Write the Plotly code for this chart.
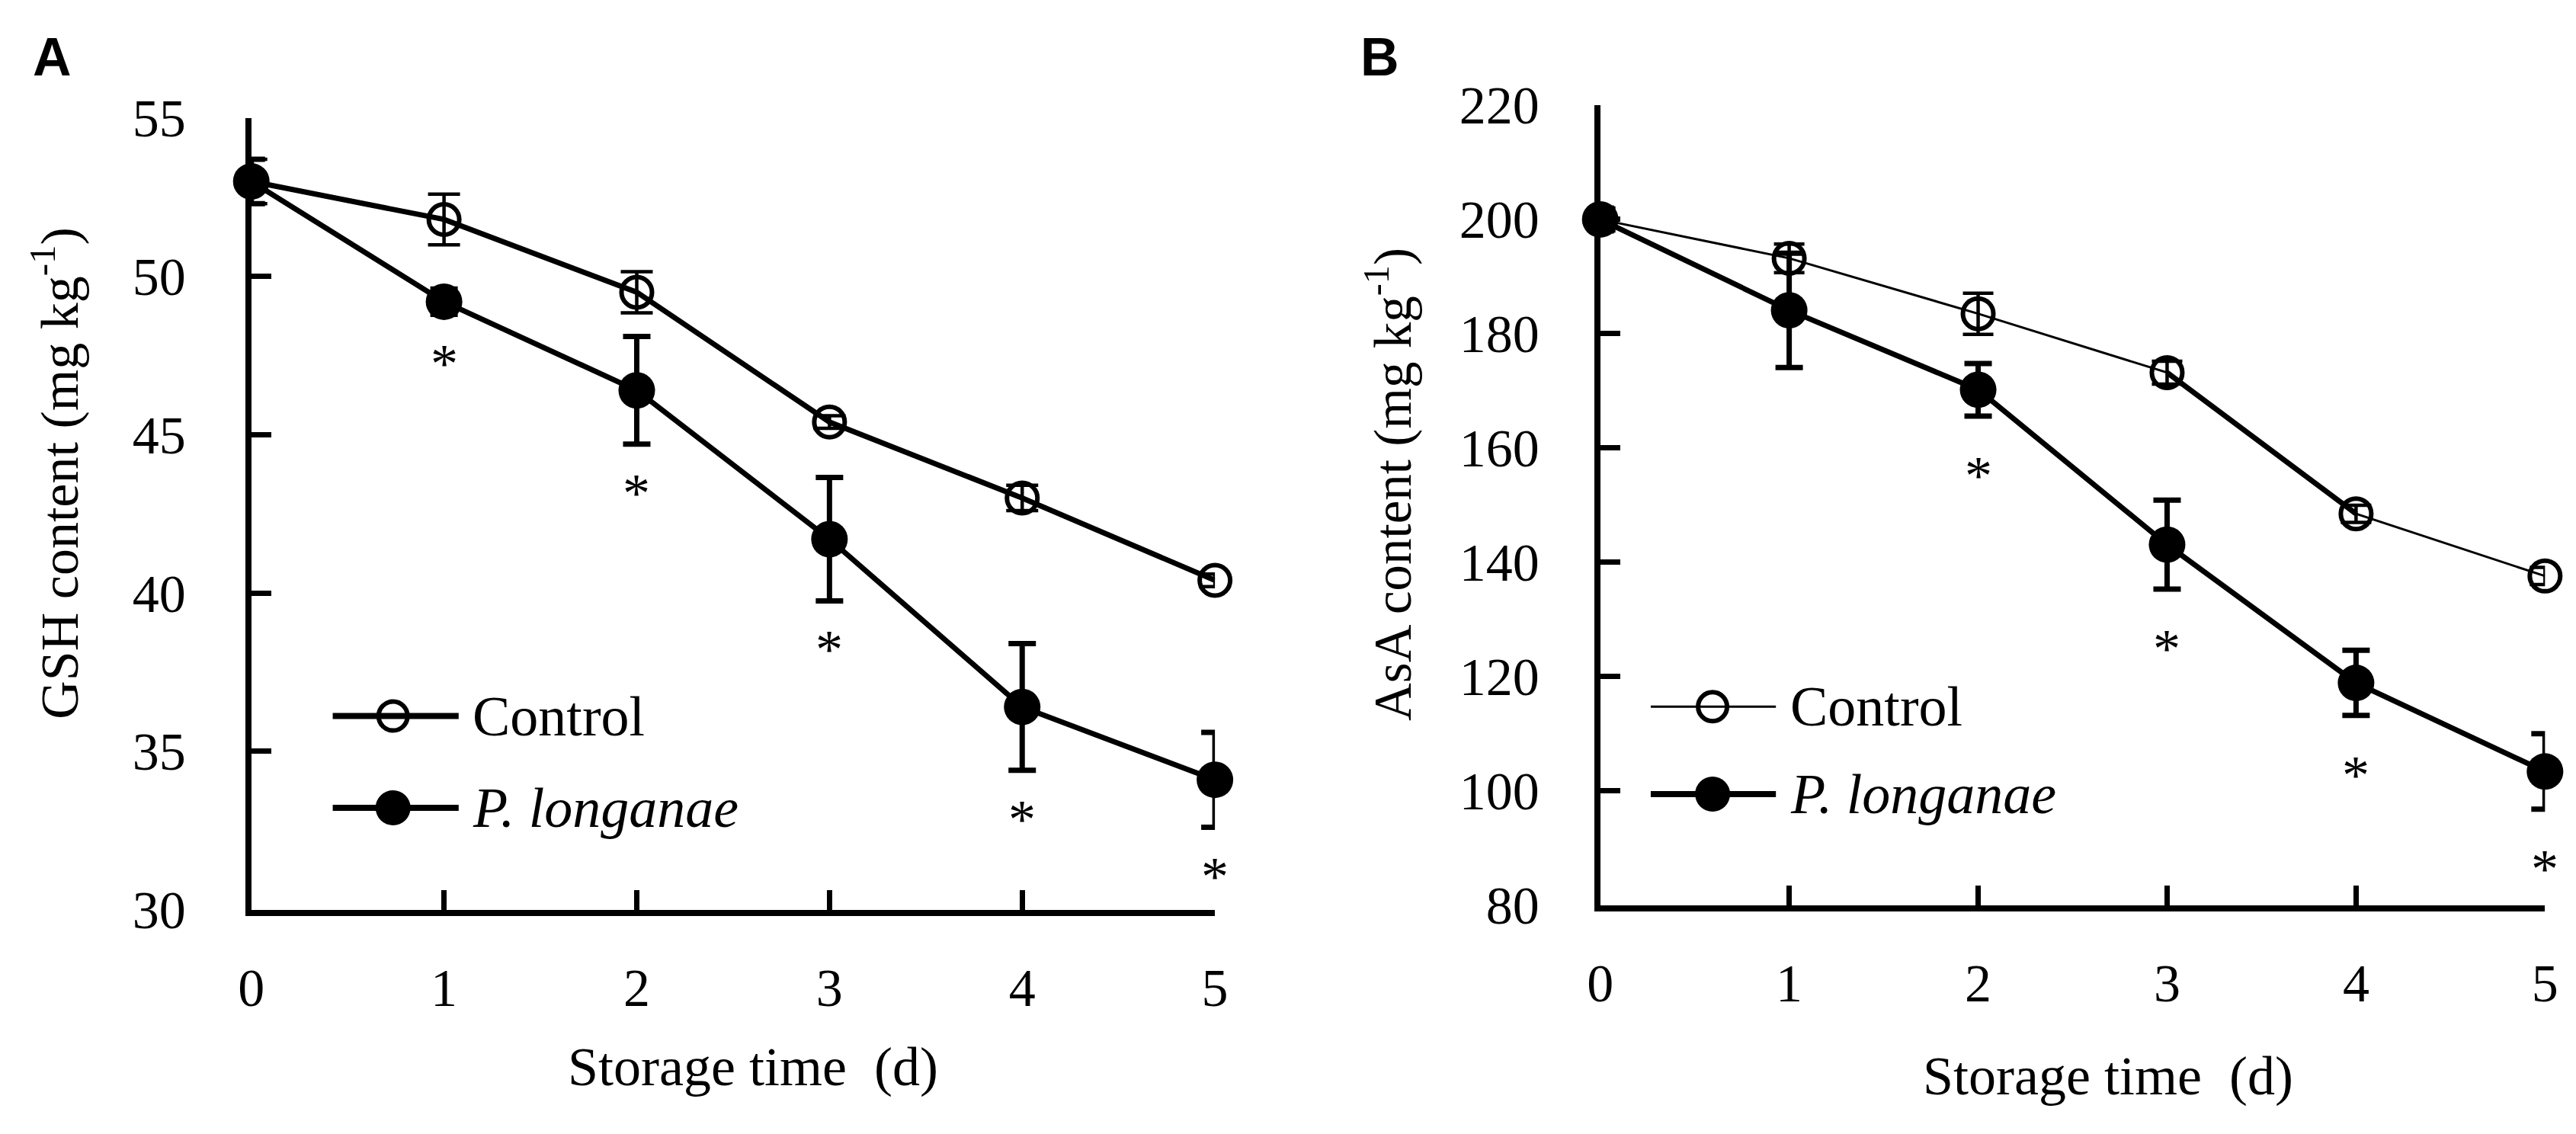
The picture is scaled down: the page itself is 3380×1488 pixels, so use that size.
import plotly.graph_objects as go

# ---------------- data ----------------
days = [0, 1, 2, 3, 4, 5]
day_ticks = [0, 1, 2, 3, 4, 5]

gsh_control = [53.0, 51.8, 49.5, 45.4, 43.0, 40.4]
gsh_control_err = [0.7, 0.8, 0.65, 0.2, 0.4, 0.2]
gsh_plong = [53.0, 49.2, 46.4, 41.7, 36.4, 34.1]
gsh_plong_err = [0.7, 0.4, 1.7, 1.95, 2.0, 1.5]
gsh_sig = [False, True, True, True, True, True]
gsh_ticks = [30, 35, 40, 45, 50, 55]

asa_control = [200.0, 193.2, 183.5, 173.2, 148.5, 137.6]
asa_control_err = [2.0, 2.5, 3.6, 2.0, 1.5, 1.5]
asa_plong = [200.0, 184.1, 170.2, 143.1, 118.9, 103.4]
asa_plong_err = [2.0, 10.0, 4.6, 7.8, 5.7, 6.6]
asa_sig = [False, False, True, True, True, True]
asa_ticks = [80, 100, 120, 140, 160, 180, 200, 220]

series_names = ["Control", "<i>P. longanae</i>"]

# ---------------- layout constants ----------------
W, H = 3380, 1488
SERIF = "Liberation Serif, Times New Roman, serif"
SANS = "Liberation Sans, Arial, sans-serif"
BLACK = "#000000"


def px(x):
    return x / W


def py(y):
    return 1 - y / H


fig = go.Figure()


def add_series(xa, ya, xs, ys, errs, symbol, msize, lw, ew, cap):
    # connecting line
    fig.add_trace(go.Scatter(x=xs, y=ys, mode="lines", xaxis=xa, yaxis=ya,
                             line=dict(color=BLACK, width=lw), showlegend=False,
                             hoverinfo="skip"))
    # error bars (clipped by the plot area)
    fig.add_trace(go.Scatter(x=xs, y=ys, mode="markers", xaxis=xa, yaxis=ya,
                             marker=dict(size=1, opacity=0),
                             error_y=dict(type="data", array=errs, color=BLACK,
                                          thickness=ew, width=cap),
                             cliponaxis=True, showlegend=False, hoverinfo="skip"))
    # markers (not clipped)
    if symbol == "circle-open":
        mk = dict(symbol=symbol, size=msize, color=BLACK, line=dict(width=6, color=BLACK))
    else:
        mk = dict(symbol=symbol, size=msize, color=BLACK, line=dict(width=0))
    fig.add_trace(go.Scatter(x=xs, y=ys, mode="markers", xaxis=xa, yaxis=ya,
                             marker=mk, cliponaxis=False, showlegend=False))


# Panel A
add_series("x", "y", days, gsh_control, gsh_control_err, "circle-open", 40, 7, 4.5, 21)
add_series("x", "y", days, gsh_plong, gsh_plong_err, "circle", 48, 7, 7, 18)
# Panel B
add_series("x2", "y2", days, asa_control, asa_control_err, "circle-open", 40, 3, 4.5, 20)
# thicker control segment between day 3 and day 4
fig.add_trace(go.Scatter(x=days[3:5], y=asa_control[3:5], mode="lines", xaxis="x2", yaxis="y2",
                         line=dict(color=BLACK, width=7), showlegend=False, hoverinfo="skip"))
add_series("x2", "y2", days, asa_plong, asa_plong_err, "circle", 48, 7, 7, 18)

annotations = []

# significance asterisks
for xa, ya, means, errs, sig, shift in [("x", "y", gsh_plong, gsh_plong_err, gsh_sig, -64),
                                          ("x2", "y2", asa_plong, asa_plong_err, asa_sig, -78)]:
    for d, m, e, s in zip(days, means, errs, sig):
        if s:
            annotations.append(dict(x=d, y=m - e, xref=xa, yref=ya, text="*",
                                    showarrow=False, yanchor="middle", xanchor="center",
                                    yshift=shift, font=dict(family=SERIF, size=72, color=BLACK)))

# Axes geometry (pixels)
A_x0, A_x1, A_y0, A_y1 = 307, 1585, 115, 1211
B_x0, B_x1, B_y0, B_y1 = 2096, 3349, 97, 1205

axis_common = dict(showline=True, linecolor=BLACK, linewidth=8, ticks="inside",
                   ticklen=26, tickwidth=7, tickcolor=BLACK, showgrid=False,
                   zeroline=False, mirror=False,
                   tickfont=dict(family=SERIF, size=70, color=BLACK))

fig.update_layout(
    width=W, height=H, margin=dict(l=0, r=0, t=0, b=0),
    paper_bgcolor="white", plot_bgcolor="white", showlegend=False,
    xaxis=dict(domain=[px(A_x0), px(A_x1)], range=[0, 5], tickvals=day_ticks,
               anchor="y", ticklabelstandoff=34, **axis_common),
    yaxis=dict(domain=[py(A_y1), py(A_y0)], range=[30, 55], tickvals=gsh_ticks,
               anchor="x", ticklabelstandoff=64, **axis_common),
    xaxis2=dict(domain=[px(B_x0), px(B_x1)], range=[0, 5], tickvals=day_ticks,
                anchor="y2", ticklabelstandoff=34, **axis_common),
    yaxis2=dict(domain=[py(B_y1), py(B_y0)], range=[80, 220], tickvals=asa_ticks,
                anchor="x2", ticklabelstandoff=58, **axis_common),
)

# axis titles and panel letters
title_font = dict(family=SERIF, size=72, color=BLACK)
annotations += [
    dict(x=px(972), y=py(1429), xref="paper", yref="paper", text="Storage time&nbsp; (d)",
         xanchor="center", yanchor="middle", showarrow=False, font=title_font),
    dict(x=px(2769), y=py(1442), xref="paper", yref="paper", text="Storage time&nbsp; (d)",
         xanchor="center", yanchor="middle", showarrow=False, font=title_font),
    dict(x=px(47), y=py(607), xref="paper", yref="paper", textangle=-90,
         xanchor="center", yanchor="middle",
         text="GSH content (mg kg<sup>-1</sup>)", showarrow=False,
         font=dict(family=SERIF, size=70, color=BLACK)),
    dict(x=px(1816), y=py(622), xref="paper", yref="paper", textangle=-90,
         xanchor="center", yanchor="middle",
         text="AsA content (mg kg<sup>-1</sup>)", showarrow=False,
         font=dict(family=SERIF, size=69, color=BLACK)),
    dict(x=px(15), y=py(31), xref="paper", yref="paper", text="<b>A</b>", xanchor="left",
         yanchor="middle", showarrow=False, font=dict(family=SANS, size=70, color=BLACK)),
    dict(x=px(1776), y=py(31), xref="paper", yref="paper", text="<b>B</b>", xanchor="left",
         yanchor="middle", showarrow=False, font=dict(family=SANS, size=70, color=BLACK)),
]

# custom legends
shapes = []
legend_specs = [
    # (line x0, line x1, marker x, text x, y rows, control line width)
    (415, 582, 495, 598, [943, 1070], 8),
    (2163, 2329, 2245, 2346, [930, 1051], 3),
]
for lx0, lx1, mx, tx, rows, cw in legend_specs:
    for i, (name, yrow) in enumerate(zip(series_names, rows)):
        shapes.append(dict(type="line", xref="paper", yref="paper", x0=px(lx0), x1=px(lx1),
                           y0=py(yrow), y1=py(yrow),
                           line=dict(color=BLACK, width=cw if i == 0 else 8)))
        r = 19 if i == 0 else 23
        shapes.append(dict(type="circle", xref="paper", yref="paper",
                           xsizemode="pixel", ysizemode="pixel",
                           xanchor=px(mx), yanchor=py(yrow), x0=-r, x1=r, y0=-r, y1=r,
                           line=dict(color=BLACK, width=6 if i == 0 else 0),
                           fillcolor="rgba(0,0,0,0)" if i == 0 else BLACK))
        annotations.append(dict(x=px(tx), y=py(yrow), xref="paper", yref="paper", text=name,
                                xanchor="left", yanchor="middle", showarrow=False,
                                font=dict(family=SERIF, size=74, color=BLACK)))

fig.update_layout(annotations=annotations, shapes=shapes)
fig.write_html("out.html")
